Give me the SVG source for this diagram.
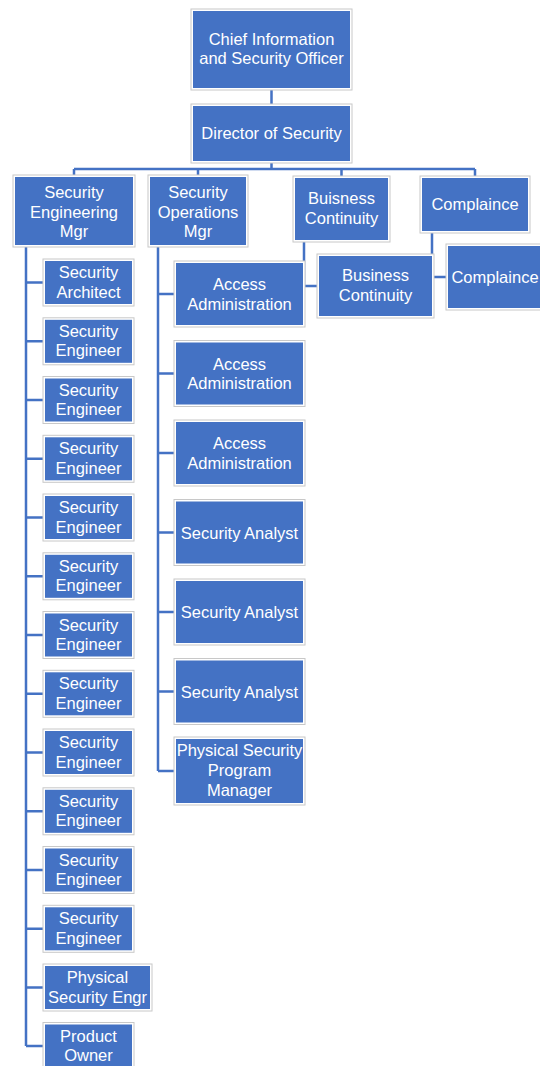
<svg xmlns="http://www.w3.org/2000/svg" width="540" height="1066" viewBox="0 0 540 1066">
<style>
.o{fill:#ffffff;stroke:#c8c8c8;stroke-width:1}
.b{fill:#4472C4}
.t{font-family:"Liberation Sans",Arial,sans-serif;font-size:16.5px;fill:#ffffff;text-anchor:middle}
.c{fill:none;stroke:#4472C4;stroke-width:2.5}
</style>
<rect width="540" height="1066" fill="#ffffff"/>
<g id="connectors">
<path class="c" d="M271.5,90V104M271.5,163V169M74,169H475M74,169V175M198,169V175M341.5,169V176M475,169V176"/>
<path class="c" d="M26,247V1046M26,282.5H43M26,341.3H43M26,400H43M26,458.8H43M26,517.5H43M26,576.3H43M26,635H43M26,693.8H43M26,752.5H43M26,811.3H43M26,870H43M26,928.8H43M26,987.5H43M26,1046H43"/>
<path class="c" d="M158,247V771M158,294H174M158,373.5H174M158,453H174M158,532.5H174M158,612H174M158,691.5H174M158,771H174"/>
<path class="c" d="M304,242V286H317M432,233V277H446"/>
</g>
<g id="ciso"><rect class="o" x="191" y="9" width="161" height="81"/><rect class="b" x="193" y="11" width="157" height="77"/><text class="t" x="271.5" y="45">Chief Information</text><text class="t" x="271.5" y="64">and Security Officer</text></g>
<g id="director"><rect class="o" x="191" y="104" width="161" height="59"/><rect class="b" x="193" y="106" width="157" height="55"/><text class="t" x="271.5" y="139">Director of Security</text></g>
<g id="sec-eng-mgr"><rect class="o" x="13" y="175" width="122" height="72"/><rect class="b" x="15" y="177" width="118" height="68"/><text class="t" x="74" y="198">Security</text><text class="t" x="74" y="217.5">Engineering</text><text class="t" x="74" y="237">Mgr</text></g>
<g id="sec-ops-mgr"><rect class="o" x="148" y="175" width="100" height="72"/><rect class="b" x="150" y="177" width="96" height="68"/><text class="t" x="198" y="198">Security</text><text class="t" x="198" y="217.5">Operations</text><text class="t" x="198" y="237">Mgr</text></g>
<g id="buisness-continuity"><rect class="o" x="293" y="176" width="97" height="66"/><rect class="b" x="295" y="178" width="93" height="62"/><text class="t" x="341.5" y="204">Buisness</text><text class="t" x="341.5" y="224">Continuity</text></g>
<g id="complaince"><rect class="o" x="420" y="176" width="110" height="57"/><rect class="b" x="422" y="178" width="106" height="53"/><text class="t" x="475" y="210">Complaince</text></g>
<g id="business-continuity"><rect class="o" x="317" y="254" width="117" height="64"/><rect class="b" x="319" y="256" width="113" height="60"/><text class="t" x="375.5" y="281">Business</text><text class="t" x="375.5" y="301">Continuity</text></g>
<g id="complaince-2"><rect class="o" x="446" y="244" width="100" height="66"/><rect class="b" x="448" y="246" width="96" height="62"/><text class="t" x="495" y="283">Complaince</text></g>
<g id="eng-1"><rect class="o" x="43" y="259" width="91" height="47"/><rect class="b" x="45" y="261" width="87" height="43"/><text class="t" x="88.5" y="278">Security</text><text class="t" x="88.5" y="297.5">Architect</text></g>
<g id="eng-2"><rect class="o" x="43" y="317.8" width="91" height="47"/><rect class="b" x="45" y="319.8" width="87" height="43"/><text class="t" x="88.5" y="336.8">Security</text><text class="t" x="88.5" y="356.3">Engineer</text></g>
<g id="eng-3"><rect class="o" x="43" y="376.5" width="91" height="47"/><rect class="b" x="45" y="378.5" width="87" height="43"/><text class="t" x="88.5" y="395.5">Security</text><text class="t" x="88.5" y="415">Engineer</text></g>
<g id="eng-4"><rect class="o" x="43" y="435.3" width="91" height="47"/><rect class="b" x="45" y="437.3" width="87" height="43"/><text class="t" x="88.5" y="454.3">Security</text><text class="t" x="88.5" y="473.8">Engineer</text></g>
<g id="eng-5"><rect class="o" x="43" y="494" width="91" height="47"/><rect class="b" x="45" y="496" width="87" height="43"/><text class="t" x="88.5" y="513">Security</text><text class="t" x="88.5" y="532.5">Engineer</text></g>
<g id="eng-6"><rect class="o" x="43" y="552.8" width="91" height="47"/><rect class="b" x="45" y="554.8" width="87" height="43"/><text class="t" x="88.5" y="571.8">Security</text><text class="t" x="88.5" y="591.3">Engineer</text></g>
<g id="eng-7"><rect class="o" x="43" y="611.5" width="91" height="47"/><rect class="b" x="45" y="613.5" width="87" height="43"/><text class="t" x="88.5" y="630.5">Security</text><text class="t" x="88.5" y="650">Engineer</text></g>
<g id="eng-8"><rect class="o" x="43" y="670.3" width="91" height="47"/><rect class="b" x="45" y="672.3" width="87" height="43"/><text class="t" x="88.5" y="689.3">Security</text><text class="t" x="88.5" y="708.8">Engineer</text></g>
<g id="eng-9"><rect class="o" x="43" y="729" width="91" height="47"/><rect class="b" x="45" y="731" width="87" height="43"/><text class="t" x="88.5" y="748">Security</text><text class="t" x="88.5" y="767.5">Engineer</text></g>
<g id="eng-10"><rect class="o" x="43" y="787.8" width="91" height="47"/><rect class="b" x="45" y="789.8" width="87" height="43"/><text class="t" x="88.5" y="806.8">Security</text><text class="t" x="88.5" y="826.3">Engineer</text></g>
<g id="eng-11"><rect class="o" x="43" y="846.5" width="91" height="47"/><rect class="b" x="45" y="848.5" width="87" height="43"/><text class="t" x="88.5" y="865.5">Security</text><text class="t" x="88.5" y="885">Engineer</text></g>
<g id="eng-12"><rect class="o" x="43" y="905.3" width="91" height="47"/><rect class="b" x="45" y="907.3" width="87" height="43"/><text class="t" x="88.5" y="924.3">Security</text><text class="t" x="88.5" y="943.8">Engineer</text></g>
<g id="phys-sec-engr"><rect class="o" x="43" y="964" width="109" height="47"/><rect class="b" x="45" y="966" width="105" height="43"/><text class="t" x="97.5" y="983">Physical</text><text class="t" x="97.5" y="1002.5">Security Engr</text></g>
<g id="product-owner"><rect class="o" x="43" y="1022.5" width="91" height="47"/><rect class="b" x="45" y="1024.5" width="87" height="43"/><text class="t" x="88.5" y="1041.5">Product</text><text class="t" x="88.5" y="1061">Owner</text></g>
<g id="ops-1"><rect class="o" x="174" y="261" width="131" height="66"/><rect class="b" x="176" y="263" width="127" height="62"/><text class="t" x="239.5" y="290">Access</text><text class="t" x="239.5" y="309.5">Administration</text></g>
<g id="ops-2"><rect class="o" x="174" y="340.5" width="131" height="66"/><rect class="b" x="176" y="342.5" width="127" height="62"/><text class="t" x="239.5" y="369.5">Access</text><text class="t" x="239.5" y="389">Administration</text></g>
<g id="ops-3"><rect class="o" x="174" y="420" width="131" height="66"/><rect class="b" x="176" y="422" width="127" height="62"/><text class="t" x="239.5" y="449">Access</text><text class="t" x="239.5" y="468.5">Administration</text></g>
<g id="ops-4"><rect class="o" x="174" y="499.5" width="131" height="66"/><rect class="b" x="176" y="501.5" width="127" height="62"/><text class="t" x="239.5" y="538.5">Security Analyst</text></g>
<g id="ops-5"><rect class="o" x="174" y="579" width="131" height="66"/><rect class="b" x="176" y="581" width="127" height="62"/><text class="t" x="239.5" y="618">Security Analyst</text></g>
<g id="ops-6"><rect class="o" x="174" y="658.5" width="131" height="66"/><rect class="b" x="176" y="660.5" width="127" height="62"/><text class="t" x="239.5" y="697.5">Security Analyst</text></g>
<g id="phys-sec-pm"><rect class="o" x="174" y="737" width="131" height="68"/><rect class="b" x="176" y="739" width="127" height="64"/><text class="t" x="239.5" y="756">Physical Security</text><text class="t" x="239.5" y="776">Program</text><text class="t" x="239.5" y="796">Manager</text></g>
</svg>
